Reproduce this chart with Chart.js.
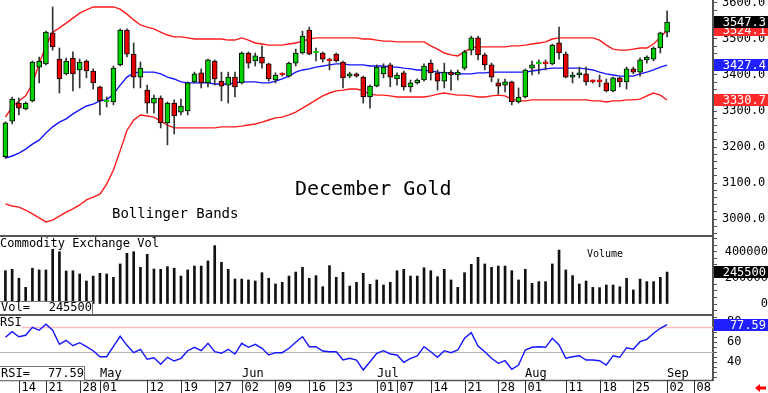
<!DOCTYPE html>
<html lang="en">
<head>
<meta charset="UTF-8">
<title>December Gold</title>
<script src="https://cdn.jsdelivr.net/npm/chart.js"></script>
<style>
  html, body { margin: 0; padding: 0; background: #fff; }
  #wrap { position: relative; width: 768px; height: 393px; overflow: hidden; }
  canvas { position: absolute; left: 0; }
  #price { top: 0; }
  #vol { top: 235px; }
  #rsi { top: 314px; }
</style>
</head>
<body>
<div id="wrap">
  <canvas id="price" width="768" height="235"></canvas>
  <canvas id="vol" width="768" height="79"></canvas>
  <canvas id="rsi" width="768" height="79"></canvas>
</div>
<script>
// daily candles, index 0 = Apr 10 ... index 98 = Sep 02
const OPEN = [3173,3272,3322,3306,3328,3422,3431,3517,3444,3403,
  3447,3414,3439,3411,3367,3325,3325,3428,3525,3458,
  3394,3358,3322,3336,3267,3322,3297,3300,3381,3406,
  3378,3439,3383,3372,3394,3378,3461,3439,3450,3431,
  3386,3403,3397,3433,3461,3525,3461,3461,3442,3458,
  3436,3397,3403,3394,3339,3369,3403,3428,3389,3406,
  3367,3378,3386,3433,3406,3383,3408,3400,3419,3469,
  3503,3456,3428,3378,3372,3381,3325,3339,3419,3431,
  3433,3431,3489,3458,3394,3400,3403,3383,3383,3378,
  3356,3392,3381,3417,3408,3442,3444,3475,3519];
const HIGH = [3270,3339,3336,3325,3439,3450,3522,3589,3475,3447,
  3464,3444,3442,3417,3369,3339,3425,3528,3528,3489,
  3436,3372,3344,3342,3325,3331,3333,3381,3408,3417,
  3444,3442,3408,3408,3408,3464,3464,3461,3481,3433,
  3406,3406,3436,3472,3522,3533,3475,3464,3447,3461,
  3439,3408,3406,3397,3372,3428,3431,3433,3406,3411,
  3386,3389,3431,3442,3414,3433,3414,3414,3469,3508,
  3508,3461,3433,3389,3389,3383,3364,3417,3439,3442,
  3442,3486,3533,3464,3408,3422,3422,3386,3400,3389,
  3394,3394,3422,3422,3447,3453,3478,3519,3578];
const LOW = [3169,3264,3289,3303,3325,3378,3428,3469,3350,3400,
  3356,3364,3392,3361,3289,3311,3317,3425,3450,3364,
  3364,3294,3294,3253,3206,3236,3289,3289,3378,3364,
  3367,3372,3328,3322,3339,3375,3419,3425,3419,3383,
  3378,3397,3394,3425,3458,3456,3439,3436,3414,3436,
  3364,3392,3394,3322,3308,3367,3392,3367,3372,3358,
  3353,3375,3383,3386,3358,3364,3358,3386,3414,3456,
  3442,3414,3381,3347,3353,3317,3322,3336,3400,3403,
  3414,3428,3444,3392,3378,3392,3372,3378,3367,3353,
  3353,3367,3361,3403,3397,3433,3439,3461,3506];
const CLOSE = [3267,3333,3308,3322,3436,3439,3519,3478,3389,3439,
  3403,3436,3411,3378,3328,3330,3419,3525,3458,3394,
  3419,3322,3336,3267,3322,3286,3314,3378,3403,3378,
  3442,3389,3369,3394,3367,3461,3433,3453,3433,3389,
  3400,3400,3433,3461,3508,3458,3464,3444,3439,3439,
  3392,3403,3397,3339,3369,3422,3422,3394,3400,3367,
  3378,3386,3425,3406,3383,3408,3400,3408,3464,3503,
  3456,3428,3394,3369,3381,3325,3339,3414,3428,3433,
  3431,3483,3461,3394,3400,3406,3381,3381,3381,3356,
  3392,3381,3417,3408,3442,3450,3475,3517,3547.3];

// Bollinger bands
const BB_UPPER = [3283,3311,3328,3342,3375,3431,3481,3519,3531,3544,
  3558,3572,3581,3589,3589,3589,3589,3583,3569,3553,
  3539,3533,3528,3519,3511,3506,3506,3503,3500,3500,
  3500,3500,3500,3497,3497,3503,3497,3489,3486,3483,
  3483,3483,3486,3489,3494,3500,3503,3503,3503,3503,
  3503,3503,3503,3500,3500,3497,3494,3494,3492,3492,
  3492,3492,3492,3481,3472,3461,3456,3453,3464,3475,
  3478,3478,3478,3478,3478,3481,3481,3483,3486,3489,
  3492,3500,3503,3503,3503,3503,3503,3503,3497,3483,
  3472,3469,3469,3472,3475,3475,3486,3505,3524.1];
const BB_MIDDLE = [3169,3175,3183,3194,3208,3219,3239,3256,3269,3278,
  3292,3303,3314,3319,3328,3331,3347,3372,3394,3406,
  3408,3408,3408,3403,3394,3389,3381,3378,3378,3378,
  3378,3375,3375,3375,3378,3381,3381,3381,3378,3378,
  3383,3389,3397,3408,3414,3417,3422,3425,3428,3431,
  3431,3428,3428,3428,3425,3425,3425,3422,3422,3419,
  3417,3414,3414,3411,3408,3406,3406,3403,3403,3403,
  3406,3406,3408,3408,3408,3408,3408,3408,3411,3414,
  3417,3419,3419,3419,3419,3419,3417,3414,3408,3403,
  3400,3397,3397,3397,3403,3408,3414,3422,3427.4];
const BB_LOWER = [3042,3036,3033,3025,3014,3003,2992,2997,3008,3019,
  3028,3039,3053,3061,3069,3097,3136,3190,3246,3275,
  3289,3286,3283,3272,3261,3253,3253,3253,3253,3253,
  3253,3253,3256,3256,3256,3258,3261,3264,3269,3275,
  3281,3283,3289,3297,3308,3319,3331,3342,3350,3356,
  3358,3361,3361,3356,3347,3344,3344,3342,3339,3339,
  3339,3339,3339,3342,3347,3350,3347,3344,3344,3342,
  3339,3339,3342,3344,3342,3333,3328,3328,3331,3331,
  3331,3331,3331,3331,3331,3331,3331,3328,3328,3325,
  3328,3328,3331,3331,3333,3342,3350,3344,3330.7];

const VOLUME = [256000,267000,198000,128000,275000,262000,262000,421000,402000,254000,
  256000,231000,177000,215000,236000,231000,205000,308000,390000,402000,
  282000,382000,269000,267000,287000,275000,215000,262000,292000,292000,
  331000,449000,321000,267000,192000,192000,185000,177000,241000,198000,
  154000,167000,215000,246000,282000,198000,218000,133000,295000,205000,
  244000,138000,167000,236000,151000,185000,146000,167000,256000,267000,
  215000,215000,279000,256000,210000,267000,185000,128000,241000,305000,
  359000,308000,282000,292000,292000,256000,185000,267000,159000,172000,
  172000,308000,415000,262000,218000,154000,177000,128000,126000,146000,
  146000,133000,198000,108000,192000,172000,172000,205000,245500];

const RSI = [65,70.6,65.6,67,75,72,78,72,58,62,
  56.6,59.6,55.6,51.6,45.6,45.6,56,66,57,49.6,
  53,43,44.6,38,45,41.3,44,51.6,55,51.6,
  59,50.6,49,53,48.3,59,55,58,54,47.3,
  49.6,49.6,54,60,65.6,55.6,55.6,51.3,50.6,50.6,
  42.3,44,42.3,32.3,40.6,49,51.6,48.3,47.3,40,
  44,46.3,55.6,50.6,45,51.6,49.6,52.3,64,69.6,
  56.3,50.6,44,39,41.6,33,37.3,52.3,55,55.6,
  55,64,57.3,44,45.6,46.6,42.3,42.3,41.6,37.3,
  46.6,45,54.6,53,60.6,63,69,74,77.59];

// x axis (candle index of each date tick)
const DAY_TICKS = [2,6,11,14,21,26,31,35,40,45,49,55,58,63,68,73,77,83,88,93,98,102];
const DAY_LABELS = ['14','21','28','01','12','19','27','02','09','16','23','01','07','14','21','28','01','11','18','25','02','08'];
const MONTH_TICKS = [14,35,55,77,98];
const MONTH_LABELS = ['May','Jun','Jul','Aug','Sep'];

const PRICE_LABELS = [3000,3100,3200,3300,3400,3500,3600];
const VOL_LABELS = [0,200000,400000];
const RSI_LABELS = [40,60,80];
const RSI_LEVELS = [50,75];

const MONO = "'DejaVu Sans Mono', monospace";
const AXIS_W = 55;
const X_MIN = -0.8, X_MAX = 104.8;
const GREEN = '#00d200', RED = '#e80000';
const BAND_RED = '#ff1a1a', BAND_BLUE = '#1414ff';

Chart.defaults.font.family = MONO;
Chart.defaults.font.size = 12;
Chart.defaults.color = '#000';

function xScale() {
    return { type: 'linear', min: X_MIN, max: X_MAX, display: false, offset: false };
}

// right side value axis with small minor tick marks
function rightAxis(min, max, step, labelled, fmt, tickOpts) {
    return {
        position: 'right', min: min, max: max,
        afterBuildTicks: function(scale) {
            const ticks = [];
            for (let n = Math.ceil(min / step); n <= Math.floor(max / step); n++) ticks.push({ value: n * step });
            scale.ticks = ticks;
        },
        afterFit: function(scale) {
            scale.width = AXIS_W;
            scale.paddingTop = 0;
            scale.paddingBottom = 0;
        },
        border: { color: '#555', width: 2 },
        grid: { drawOnChartArea: false, tickLength: 4, color: '#555' },
        ticks: Object.assign({
            autoSkip: false, padding: 5, color: '#000', font: { size: 12 },
            callback: v => labelled.includes(v) ? fmt(v) : ''
        }, tickOpts || {})
    };
}

function pts(arr) {
    return arr.map((v, i) => ({ x: i, y: v }));
}

// coloured value boxes on the right axis
function valueBoxes(id, boxes) {
    return {
        id: id,
        afterDraw(chart) {
            const ctx = chart.ctx, s = chart.scales.y;
            ctx.save();
            ctx.font = '12px ' + MONO;
            ctx.textBaseline = 'middle';
            ctx.textAlign = 'right';
            boxes.forEach(b => {
                const y = Math.round(s.getPixelForValue(b.value));
                ctx.fillStyle = b.bg;
                ctx.fillRect(s.left + 1, y - 6, chart.width - s.left, 12);
                ctx.fillStyle = '#fff';
                ctx.fillText(b.text, 766, y + 1);
            });
            ctx.restore();
        }
    };
}

function hLine(ctx, y, x0, x1, color, w) {
    ctx.strokeStyle = color;
    ctx.lineWidth = w;
    ctx.beginPath();
    ctx.moveTo(x0, y);
    ctx.lineTo(x1, y);
    ctx.stroke();
}

function labelBox(ctx, x0, y0, x1, y1, left, right) {
    ctx.fillStyle = '#fff';
    ctx.fillRect(x0, y0, x1 - x0, y1 - y0);
    ctx.strokeStyle = '#777';
    ctx.lineWidth = 1;
    ctx.strokeRect(x0 - 1, y0 + 0.5, x1 - x0 + 0.5, y1 - y0);
    ctx.fillStyle = '#000';
    ctx.font = '12px ' + MONO;
    ctx.textBaseline = 'alphabetic';
    ctx.textAlign = 'left';
    ctx.fillText(left, x0 + 1, y1 - 3);
    ctx.textAlign = 'right';
    ctx.fillText(right, x1 - 1, y1 - 3);
}

const last = CLOSE.length - 1;

// ---------- price panel ----------
const isUp = CLOSE.map((c, i) => c >= OPEN[i]);
const bodyColors = isUp.map(u => u ? GREEN : RED);
const bodyBorders = CLOSE.map((c, i) => Math.abs(c - OPEN[i]) < 6 ? bodyColors[i] : '#000');

const priceText = {
    id: 'priceText',
    afterDraw(chart) {
        const ctx = chart.ctx;
        ctx.save();
        ctx.fillStyle = '#000';
        ctx.textAlign = 'left';
        ctx.textBaseline = 'alphabetic';
        ctx.font = '20px ' + MONO;
        ctx.fillText('December Gold', 295, 195);
        ctx.font = '14px ' + MONO;
        ctx.fillText('Bollinger Bands', 112, 218);
        ctx.restore();
    }
};

new Chart(document.getElementById('price'), {
    type: 'bar',
    data: {
        datasets: [
            { type: 'line', data: pts(BB_UPPER), borderColor: BAND_RED, borderWidth: 1.4, pointRadius: 0, order: 5 },
            { type: 'line', data: pts(BB_MIDDLE), borderColor: BAND_BLUE, borderWidth: 1.4, pointRadius: 0, order: 5 },
            { type: 'line', data: pts(BB_LOWER), borderColor: BAND_RED, borderWidth: 1.4, pointRadius: 0, order: 5 },
            {
                data: LOW.map((l, i) => ({ x: i, y: [l, HIGH[i]] })),
                backgroundColor: '#333', barThickness: 1, grouped: false, order: 2
            },
            {
                data: OPEN.map((o, i) => ({ x: i, y: [o, CLOSE[i]] })),
                backgroundColor: bodyColors, borderColor: bodyBorders, borderWidth: 1,
                borderSkipped: false, barThickness: 5, minBarLength: 2, grouped: false, order: 1
            }
        ]
    },
    options: {
        responsive: false,
        animation: false,
        layout: { padding: 0, autoPadding: false },
        plugins: { legend: { display: false }, tooltip: { enabled: false } },
        scales: {
            x: xScale(),
            y: rightAxis(2955.6, 3608.3, 20, PRICE_LABELS, v => v.toFixed(1))
        }
    },
    plugins: [priceText, valueBoxes('priceBoxes', [
        { value: BB_LOWER[last], text: BB_LOWER[last].toFixed(1), bg: '#ff2b2b' },
        { value: BB_MIDDLE[last], text: BB_MIDDLE[last].toFixed(1), bg: '#1f1fff' },
        { value: BB_UPPER[last], text: BB_UPPER[last].toFixed(1), bg: '#ff2b2b' },
        { value: CLOSE[last], text: CLOSE[last].toFixed(1), bg: '#000' }
    ])]
});

// ---------- volume panel ----------
const volText = {
    id: 'volText',
    afterDraw(chart) {
        const ctx = chart.ctx;
        ctx.save();
        hLine(ctx, 1, 0, 713, '#555', 2);
        ctx.fillStyle = '#000';
        ctx.textAlign = 'left';
        ctx.textBaseline = 'alphabetic';
        ctx.font = '12px ' + MONO;
        ctx.fillText('Commodity Exchange Vol', 0, 12);
        ctx.font = '10px ' + MONO;
        ctx.fillText('Volume', 587, 22);
        labelBox(ctx, 0, 66, 93, 79, 'Vol=', String(VOLUME[last]));
        ctx.restore();
    }
};

new Chart(document.getElementById('vol'), {
    type: 'bar',
    data: {
        datasets: [{
            data: pts(VOLUME), backgroundColor: '#111', barThickness: 2
        }]
    },
    options: {
        responsive: false,
        animation: false,
        layout: { padding: 0, autoPadding: false },
        plugins: { legend: { display: false }, tooltip: { enabled: false } },
        scales: {
            x: xScale(),
            y: rightAxis(-76923, 530769, 50000, VOL_LABELS, v => String(v), { crossAlign: 'far' })
        }
    },
    plugins: [volText, valueBoxes('volBox', [
        { value: VOLUME[last], text: String(VOLUME[last]), bg: '#000' }
    ])]
});

// ---------- RSI panel + date axis ----------
const rsiDecor = {
    id: 'rsiDecor',
    beforeDatasetsDraw(chart) {
        const ctx = chart.ctx, s = chart.scales.y;
        ctx.save();
        hLine(ctx, Math.round(s.getPixelForValue(RSI_LEVELS[0])) + 0.5, 0, 713, '#b4b4b4', 1);
        hLine(ctx, Math.round(s.getPixelForValue(RSI_LEVELS[1])) + 0.5, 22, 713, '#ffbcbc', 1.5);
        ctx.restore();
    },
    afterDraw(chart) {
        const ctx = chart.ctx, sx = chart.scales.x;
        const bottom = chart.chartArea.bottom;
        ctx.save();
        hLine(ctx, 1, 0, 713, '#555', 2);
        hLine(ctx, bottom + 0.5, 0, 713, '#555', 1.5);
        ctx.fillStyle = '#000';
        ctx.font = '12px ' + MONO;
        ctx.textAlign = 'left';
        ctx.textBaseline = 'alphabetic';
        ctx.fillText('RSI', 0, 12);
        MONTH_TICKS.forEach((t, i) => {
            ctx.fillText(MONTH_LABELS[i], Math.round(sx.getPixelForValue(t)), bottom - 3);
        });
        DAY_TICKS.forEach((t, i) => {
            const x = Math.round(sx.getPixelForValue(t)) + 0.5;
            ctx.strokeStyle = '#333';
            ctx.lineWidth = 1;
            ctx.beginPath();
            ctx.moveTo(x, bottom);
            ctx.lineTo(x, chart.height);
            ctx.stroke();
            ctx.fillText(DAY_LABELS[i], x + 2, chart.height - 2);
        });
        labelBox(ctx, 0, bottom - 14, 85, bottom, 'RSI=', RSI[last].toFixed(2));
        // small red arrow, bottom right
        ctx.fillStyle = '#ff0000';
        ctx.beginPath();
        ctx.moveTo(755, 74);
        ctx.lineTo(760, 70);
        ctx.lineTo(760, 72.5);
        ctx.lineTo(766, 72.5);
        ctx.lineTo(766, 75.5);
        ctx.lineTo(760, 75.5);
        ctx.lineTo(760, 78);
        ctx.closePath();
        ctx.fill();
        ctx.restore();
    }
};

new Chart(document.getElementById('rsi'), {
    type: 'line',
    data: {
        datasets: [{
            data: pts(RSI), borderColor: '#1414ff', borderWidth: 1.4, pointRadius: 0, tension: 0
        }]
    },
    options: {
        responsive: false,
        animation: false,
        layout: { padding: { left: 0, right: 0, top: 0, bottom: 13 }, autoPadding: false },
        plugins: { legend: { display: false }, tooltip: { enabled: false } },
        scales: {
            x: xScale(),
            y: rightAxis(22.3, 88.3, 5, RSI_LABELS, v => String(v), { padding: 10 })
        }
    },
    plugins: [rsiDecor, valueBoxes('rsiBox', [
        { value: RSI[last], text: RSI[last].toFixed(2), bg: '#1f1fff' }
    ])]
});
</script>
</body>
</html>
